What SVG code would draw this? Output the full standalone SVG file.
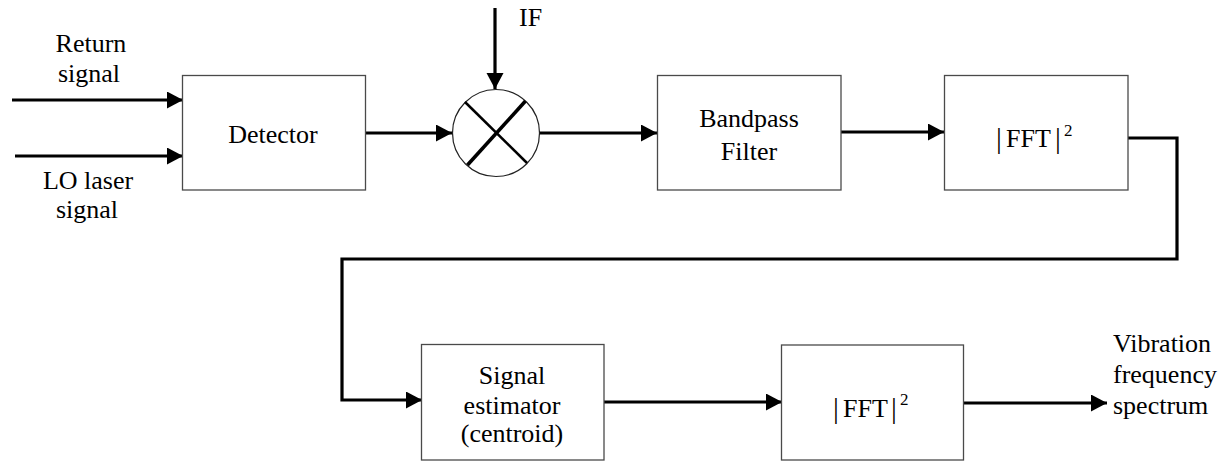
<svg xmlns="http://www.w3.org/2000/svg" width="1229" height="462" viewBox="0 0 1229 462">
  <style>
    .box { fill: #ffffff; stroke: #4a4a4a; stroke-width: 1.3; }
    .wire { fill: none; stroke: #000000; stroke-width: 3.2; stroke-linejoin: miter; }
    text { font-family: 'Liberation Serif', Tinos, 'DejaVu Serif', serif; font-size: 26px; fill: #000000; }
    .mid { text-anchor: middle; }
    .bar { font-size: 29px; }
    .sup { font-size: 17px; }
  </style>
  <defs>
    <marker id="head" markerUnits="userSpaceOnUse" markerWidth="17" markerHeight="18" refX="16" refY="8.5" orient="auto">
      <path d="M0,0 L16,8.5 L0,17 Z" fill="#000000"/>
    </marker>
  </defs>

  <rect width="1229" height="462" fill="#ffffff"/>

  <!-- signal chain wiring -->
  <g id="connectors">
    <path class="wire" d="M12,100 L183,100" marker-end="url(#head)"/>
    <path class="wire" d="M15,156 L183,156" marker-end="url(#head)"/>
    <path class="wire" d="M361,133 L452,133" marker-end="url(#head)"/>
    <path class="wire" d="M495,8 L495,89" marker-end="url(#head)"/>
    <path class="wire" d="M539,133 L657,133" marker-end="url(#head)"/>
    <path class="wire" d="M841,132 L944,132" marker-end="url(#head)"/>
    <path class="wire" d="M1124,138 H1177 V259 H342 V400 H422" marker-end="url(#head)"/>
    <path class="wire" d="M600,402 L782,402" marker-end="url(#head)"/>
    <path class="wire" d="M963,403 L1107,403" marker-end="url(#head)"/>
  </g>

  <!-- input labels -->
  <g id="input-return">
    <text class="mid" x="91" y="52">Return</text>
    <text class="mid" x="89" y="82">signal</text>
  </g>
  <g id="input-lo">
    <text class="mid" x="88" y="189">LO laser</text>
    <text class="mid" x="87" y="218">signal</text>
  </g>
  <g id="input-if">
    <text x="519" y="26">IF</text>
  </g>

  <g id="detector">
    <rect class="box" x="182.5" y="75.5" width="183" height="114.5"/>
    <text class="mid" x="273" y="143">Detector</text>
  </g>

  <g id="mixer">
    <circle cx="496" cy="133" r="43.5" fill="#ffffff" stroke="#222222" stroke-width="1.2"/>
    <line x1="465" y1="102" x2="527" y2="163" stroke="#000000" stroke-width="2.5"/>
    <line x1="467.5" y1="165" x2="525.5" y2="101" stroke="#000000" stroke-width="3.6"/>
  </g>

  <g id="bandpass">
    <rect class="box" x="657.5" y="75.5" width="183.5" height="114.5"/>
    <text class="mid" x="749" y="127">Bandpass</text>
    <text class="mid" x="749" y="160">Filter</text>
  </g>

  <g id="fft-1">
    <rect class="box" x="944.5" y="75.5" width="183.5" height="114.5"/>
    <text><tspan class="bar" x="996" y="148">|</tspan><tspan x="1006" y="147">FFT</tspan><tspan class="bar" x="1055" y="148">|</tspan><tspan class="sup" x="1064" y="136">2</tspan></text>
  </g>

  <g id="estimator">
    <rect class="box" x="421.5" y="344.5" width="182.5" height="115.5"/>
    <text class="mid" x="512" y="384">Signal</text>
    <text class="mid" x="512" y="414">estimator</text>
    <text class="mid" x="512" y="442">(centroid)</text>
  </g>

  <g id="fft-2">
    <rect class="box" x="781.5" y="345" width="182" height="115"/>
    <text><tspan class="bar" x="833" y="418">|</tspan><tspan x="843" y="417">FFT</tspan><tspan class="bar" x="891" y="418">|</tspan><tspan class="sup" x="900" y="405">2</tspan></text>
  </g>

  <g id="output">
    <text x="1113" y="352">Vibration</text>
    <text x="1113" y="383">frequency</text>
    <text x="1113" y="414">spectrum</text>
  </g>
</svg>
